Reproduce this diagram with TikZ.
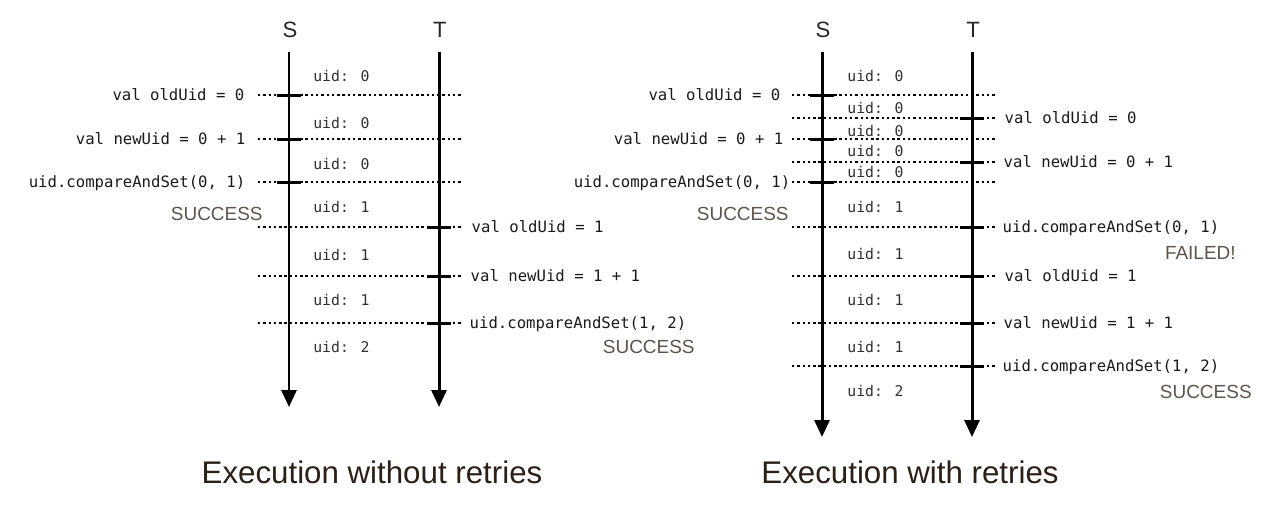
\documentclass[tikz,border=0pt]{standalone}
\usepackage{fontspec}
\setmainfont{Liberation Sans}
\newfontfamily\monofont{DejaVu Sans Mono}
\usepackage{xcolor}
\usepackage{tikz}
\usetikzlibrary{arrows.meta}
\usetikzlibrary{positioning}
\definecolor{codeGray}{HTML}{1A1A1A}
\definecolor{uidGray}{HTML}{303030}
\definecolor{statusBrown}{HTML}{5E544C}
\definecolor{titleBrown}{HTML}{2B1F16}
\tikzstyle{thread} = [line width=1.7pt, -{Triangle[length=0.34cm, width=0.3cm]}]
\tikzstyle{tickNode} = [rectangle, minimum width=0.48cm, minimum height=0.06cm, inner sep=0pt, fill=black]
\tikzstyle{syncLine} = [line width=0.8pt, dash pattern=on 1.4pt off 1.6pt]
\tikzstyle{codeText} = [font=\monofont\fontsize{8.9}{10}\selectfont, text=codeGray, inner sep=0pt, text height=6.5pt, text depth=0pt]
\tikzstyle{uidText} = [font=\monofont\fontsize{8.4}{10}\selectfont, text=uidGray, inner sep=0pt, text height=6.1pt, text depth=0pt, anchor=west]
\tikzstyle{statusText} = [font=\fontsize{10.8}{12}\selectfont, text=statusBrown, inner sep=0pt, text height=7.7pt, text depth=0pt]
\tikzstyle{titleText} = [font=\fontsize{17.8}{20}\selectfont, text=titleBrown, inner sep=0pt, text height=12.7pt, text depth=0pt]
\tikzstyle{headText} = [font=\fontsize{12.6}{14}\selectfont, text=black!85, inner sep=0pt, text height=9pt, text depth=0pt]

\begin{document}
\begin{tikzpicture}[x=0.02cm, y=-0.02cm]
\useasboundingbox (0,0) rectangle (1280,504);
\node (S1) [headText] at (290,30) {S};
\node (T1) [headText] at (440,30) {T};
\node (S2) [headText] at (823,30) {S};
\node (T2) [headText] at (973,30) {T};
\coordinate (S1top) at (289,52);
\coordinate (S1end) at (289,407);
\coordinate (T1top) at (439,52);
\coordinate (T1end) at (439,407);
\coordinate (S2top) at (822,52);
\coordinate (S2end) at (822,437);
\coordinate (T2top) at (972,52);
\coordinate (T2end) at (972,437);
\draw [thread] (S1top) -- (S1end);
\draw [thread] (T1top) -- (T1end);
\draw [thread] (S2top) -- (S2end);
\draw [thread] (T2top) -- (T2end);
\coordinate (aL1) at (258,95);
\coordinate (aR1) at (463,95);
\coordinate (aL2) at (258,139);
\coordinate (aR2) at (463,139);
\coordinate (aL3) at (258,182);
\coordinate (aR3) at (463,182);
\coordinate (aL4) at (258,227);
\coordinate (aR4) at (463,227);
\coordinate (aL5) at (258,276);
\coordinate (aR5) at (463,276);
\coordinate (aL6) at (258,323);
\coordinate (aR6) at (463,323);
\draw [syncLine] (aL1) -- (aR1);
\draw [syncLine] (aL2) -- (aR2);
\draw [syncLine] (aL3) -- (aR3);
\draw [syncLine] (aL4) -- (aR4);
\draw [syncLine] (aL5) -- (aR5);
\draw [syncLine] (aL6) -- (aR6);
\node (a1) [tickNode] at (289,95) {};
\node (a2) [tickNode] at (289,139) {};
\node (a3) [tickNode] at (289,182) {};
\node (a4) [tickNode] at (439,227) {};
\node (a5) [tickNode] at (439,276) {};
\node (a6) [tickNode] at (439,323) {};
\node (a1txt) [codeText, left=0.64cm of a1] {val oldUid = 0};
\node (a2txt) [codeText, left=0.62cm of a2] {val newUid = 0 + 1};
\node (a3txt) [codeText, left=0.62cm of a3] {uid.compareAndSet(0, 1)};
\node (a4txt) [codeText, right=0.4cm of a4] {val oldUid = 1};
\node (a5txt) [codeText, right=0.38cm of a5] {val newUid = 1 + 1};
\node (a6txt) [codeText, right=0.36cm of a6] {uid.compareAndSet(1, 2)};
\node (u1) [uidText] at (313,76) {uid: 0};
\node (u2) [uidText] at (313,123) {uid: 0};
\node (u3) [uidText] at (313,164) {uid: 0};
\node (u4) [uidText] at (313,207) {uid: 1};
\node (u5) [uidText] at (313,255) {uid: 1};
\node (u6) [uidText] at (313,300) {uid: 1};
\node (u7) [uidText] at (313,347) {uid: 2};
\node (ok1) [statusText, anchor=east] at (263,214) {SUCCESS};
\node (ok2) [statusText, anchor=east] at (695,347) {SUCCESS};
\coordinate (bL1) at (792,95);
\coordinate (bR1) at (997,95);
\coordinate (bL2) at (792,118);
\coordinate (bR2) at (997,118);
\coordinate (bL3) at (792,139);
\coordinate (bR3) at (997,139);
\coordinate (bL4) at (792,162);
\coordinate (bR4) at (997,162);
\coordinate (bL5) at (792,182);
\coordinate (bR5) at (997,182);
\coordinate (bL6) at (792,227);
\coordinate (bR6) at (997,227);
\coordinate (bL7) at (792,276);
\coordinate (bR7) at (997,276);
\coordinate (bL8) at (792,323);
\coordinate (bR8) at (997,323);
\coordinate (bL9) at (792,366);
\coordinate (bR9) at (997,366);
\draw [syncLine] (bL1) -- (bR1);
\draw [syncLine] (bL2) -- (bR2);
\draw [syncLine] (bL3) -- (bR3);
\draw [syncLine] (bL4) -- (bR4);
\draw [syncLine] (bL5) -- (bR5);
\draw [syncLine] (bL6) -- (bR6);
\draw [syncLine] (bL7) -- (bR7);
\draw [syncLine] (bL8) -- (bR8);
\draw [syncLine] (bL9) -- (bR9);
\node (b1) [tickNode] at (822,95) {};
\node (b2) [tickNode] at (972,118) {};
\node (b3) [tickNode] at (822,139) {};
\node (b4) [tickNode] at (972,162) {};
\node (b5) [tickNode] at (822,182) {};
\node (b6) [tickNode] at (972,227) {};
\node (b7) [tickNode] at (972,276) {};
\node (b8) [tickNode] at (972,323) {};
\node (b9) [tickNode] at (972,366) {};
\node (b1txt) [codeText, left=0.58cm of b1] {val oldUid = 0};
\node (b2txt) [codeText, right=0.4cm of b2] {val oldUid = 0};
\node (b3txt) [codeText, left=0.52cm of b3] {val newUid = 0 + 1};
\node (b4txt) [codeText, right=0.38cm of b4] {val newUid = 0 + 1};
\node (b5txt) [codeText, left=0.38cm of b5] {uid.compareAndSet(0, 1)};
\node (b6txt) [codeText, right=0.36cm of b6] {uid.compareAndSet(0, 1)};
\node (b7txt) [codeText, right=0.4cm of b7] {val oldUid = 1};
\node (b8txt) [codeText, right=0.38cm of b8] {val newUid = 1 + 1};
\node (b9txt) [codeText, right=0.36cm of b9] {uid.compareAndSet(1, 2)};
\node (v1) [uidText] at (847,76) {uid: 0};
\node (v2) [uidText] at (847,108) {uid: 0};
\node (v3) [uidText] at (847,131) {uid: 0};
\node (v4) [uidText] at (847,151) {uid: 0};
\node (v5) [uidText] at (847,172) {uid: 0};
\node (v6) [uidText] at (847,207) {uid: 1};
\node (v7) [uidText] at (847,254) {uid: 1};
\node (v8) [uidText] at (847,300) {uid: 1};
\node (v9) [uidText] at (847,347) {uid: 1};
\node (v10) [uidText] at (847,391) {uid: 2};
\node (ok3) [statusText, anchor=east] at (789,214) {SUCCESS};
\node (fail1) [statusText, anchor=east] at (1236,253) {FAILED!};
\node (ok4) [statusText, anchor=east] at (1252,392) {SUCCESS};
\node (title1) [titleText] at (372,472) {Execution without retries};
\node (title2) [titleText] at (910,472) {Execution with retries};
\end{tikzpicture}
\end{document}
